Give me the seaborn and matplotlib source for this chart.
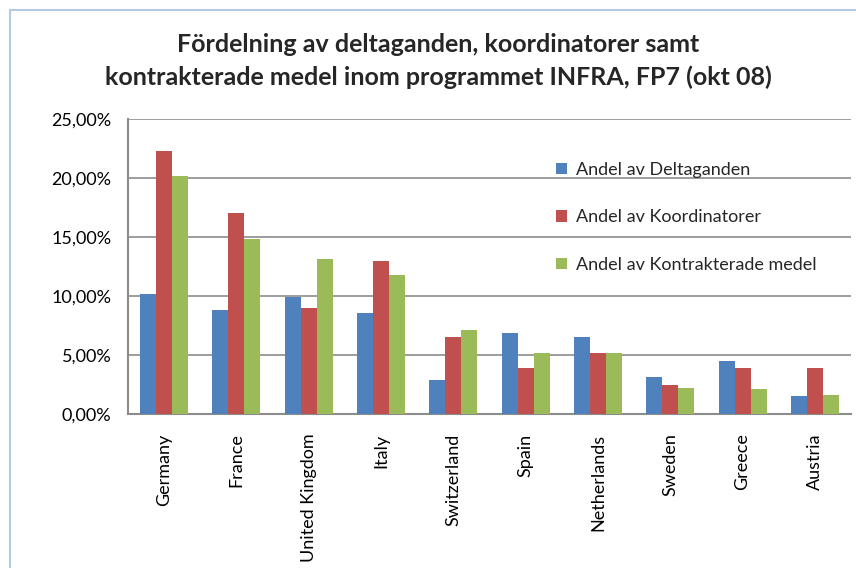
import matplotlib
matplotlib.use("Agg")
import matplotlib.pyplot as plt
import seaborn as sns
import pandas as pd
from matplotlib.lines import Line2D
from matplotlib.ticker import FuncFormatter

countries = ["Germany", "France", "United Kingdom", "Italy", "Switzerland",
             "Spain", "Netherlands", "Sweden", "Greece", "Austria"]
deltaganden = [10.2, 8.8, 9.9, 8.6, 2.9, 6.9, 6.5, 3.1, 4.5, 1.5]
koordinatorer = [22.3, 17.0, 9.0, 13.0, 6.5, 3.9, 5.2, 2.5, 3.9, 3.9]
kontrakterade = [20.2, 14.8, 13.1, 11.8, 7.1, 5.2, 5.2, 2.2, 2.1, 1.6]
series_names = ["Andel av Deltaganden", "Andel av Koordinatorer",
                "Andel av Kontrakterade medel"]
yticks = [0, 5, 10, 15, 20, 25]

rows = []
for name, vals in zip(series_names, [deltaganden, koordinatorer, kontrakterade]):
    for c, v in zip(countries, vals):
        rows.append({"Land": c, "Serie": name, "Andel": v})
df = pd.DataFrame(rows)

sns.set_theme(style="white")
plt.rcParams["font.family"] = ["Lato", "DejaVu Sans"]

W, H = 856, 568
fig = plt.figure(figsize=(W / 100, H / 100), dpi=100)
ax = fig.add_axes([128 / W, 1 - 414 / H, (851 - 128) / W, (414 - 119) / H])

palette = ["#4F81BD", "#C0504D", "#9BBB59"]
sns.barplot(data=df, x="Land", y="Andel", hue="Serie", order=countries,
            hue_order=series_names, palette=palette, width=0.664, gap=0,
            linewidth=0, saturation=1, ax=ax, zorder=3)

ax.set_xlim(-0.5, 9.5)
ax.set_ylim(0, 25)
ax.set_yticks(yticks)
ax.yaxis.set_major_formatter(FuncFormatter(lambda v, p: f"{v:.2f}".replace(".", ",") + "%"))
ax.grid(axis="y", color="#8c8c8c", linewidth=1.2, zorder=0)
ax.set_axisbelow(True)
ax.set_xlabel("")
ax.set_ylabel("")
ax.tick_params(axis="y", labelsize=13, colors="black", length=0, pad=12)
ax.tick_params(axis="x", labelsize=13, colors="black", length=0, pad=14)
plt.setp(ax.get_xticklabels(), rotation=90)
for s in ["top", "right"]:
    ax.spines[s].set_visible(False)
for s in ["left", "bottom"]:
    ax.spines[s].set_color("#8c8c8c")
    ax.spines[s].set_linewidth(1.5)

leg = ax.legend(loc="upper left", bbox_to_anchor=(0.57, 0.91), frameon=False,
                fontsize=13, handlelength=0.6, handleheight=0.6,
                handletextpad=0.5, labelspacing=1.75)

fig.text(0.512, 1 - 45 / H, "Fördelning av deltaganden, koordinatorer samt",
         ha="center", va="center", fontsize=18, fontweight="bold")
fig.text(0.512, 1 - 77 / H, "kontrakterade medel inom programmet INFRA, FP7 (okt 08)",
         ha="center", va="center", fontsize=18, fontweight="bold")

border = "#b4cbe8"
fig.add_artist(Line2D([10 / W, 10 / W], [0, 1 - 10 / H], transform=fig.transFigure,
                      color=border, linewidth=1.5))
fig.add_artist(Line2D([10 / W, 1], [1 - 10 / H, 1 - 10 / H], transform=fig.transFigure,
                      color=border, linewidth=1.5))

fig.savefig("out.png", dpi=100)
